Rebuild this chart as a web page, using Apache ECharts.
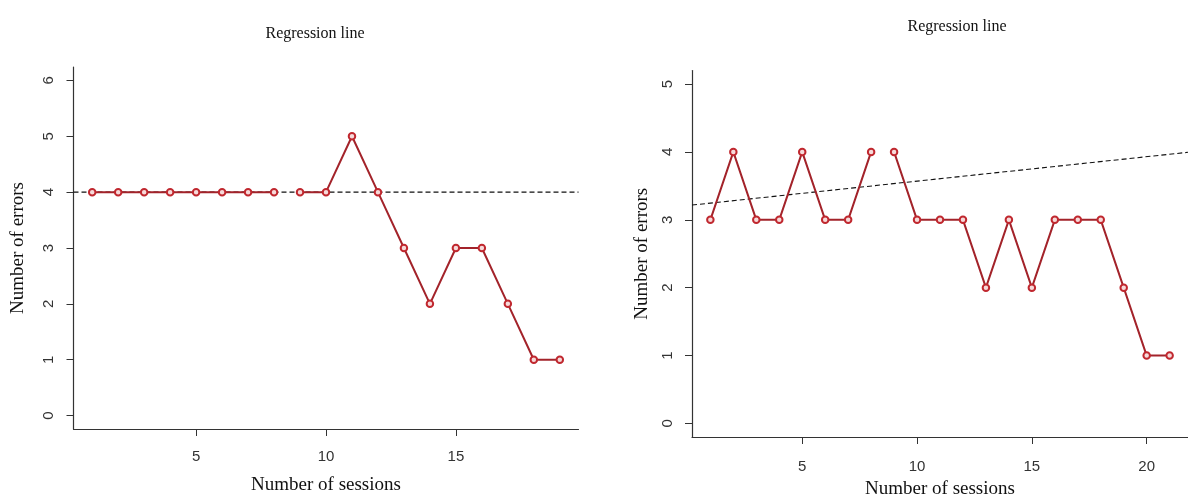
<!DOCTYPE html>
<html>
<head>
<meta charset="utf-8">
<script src="https://cdn.jsdelivr.net/npm/echarts@6/dist/echarts.min.js"></script>
<style>
html,body{margin:0;padding:0;background:#fff;}
#chart{width:1188px;height:504px;}
</style>
</head>
<body>
<div id="chart"></div>
<script>
// ---- data ----
const leftSessionsA = [1,2,3,4,5,6,7,8];
const leftErrorsA   = [4,4,4,4,4,4,4,4];
const leftSessionsB = [9,10,11,12,13,14,15,16,17,18,19];
const leftErrorsB   = [4,4,5,4,3,2,3,3,2,1,1];
const leftTrend     = [4, 0];          // intercept, slope
const leftXTicks    = [5,10,15];
const leftYTicks    = [0,1,2,3,4,5,6];

const rightSessionsA = [1,2,3,4,5,6,7,8];
const rightErrorsA   = [3,4,3,3,4,3,3,4];
const rightSessionsB = [9,10,11,12,13,14,15,16,17,18,19,20,21];
const rightErrorsB   = [4,3,3,3,2,3,2,3,3,3,2,1,1];
const rightTrend     = [3.21, 0.036];  // intercept, slope
const rightXTicks    = [5,10,15,20];
const rightYTicks    = [0,1,2,3,4,5];

const titles = ['Regression line','Regression line'];
const xName = 'Number of sessions';
const yName = 'Number of errors';

// ---- helpers ----
const pairs = (xs, ys) => xs.map((x,i)=>[x, ys[i]]);
const trendLine = (t, lo, hi) => [[lo, t[0]+t[1]*lo],[hi, t[0]+t[1]*hi]];

const LX = [0.28, 19.72], LY = [-0.24, 6.24];
const RX = [0.2, 21.8],  RY = [-0.2, 5.2];

const serif = '"Liberation Serif", "DejaVu Serif", serif';
const sans  = '"Liberation Sans", Arial, sans-serif';
const axisCol = '#333';
const lineCol = '#a3232a';
const ptCol = '#c0282f';

function xAxisCfg(idx, rng, ticks, gap, margin){
  return {
    type:'value', gridIndex: idx, min: rng[0], max: rng[1],
    axisLine:{show:true, onZero:false, lineStyle:{color:axisCol, width:1.2}},
    axisTick:{show:true, length:7, customValues: ticks, lineStyle:{color:axisCol}},
    axisLabel:{show:true, customValues: ticks, margin: margin, fontFamily: sans, fontSize: 15, color:'#333'},
    splitLine:{show:false},
    name: xName, nameLocation:'middle', nameGap: gap,
    nameTextStyle:{fontFamily: serif, fontSize: 19, color:'#111'}
  };
}
function yAxisCfg(idx, rng, ticks, gap){
  return {
    type:'value', gridIndex: idx, min: rng[0], max: rng[1],
    axisLine:{show:true, onZero:false, lineStyle:{color:axisCol, width:1.2}},
    axisTick:{show:true, length:7, customValues: ticks, lineStyle:{color:axisCol}},
    axisLabel:{show:true, customValues: ticks, rotate: 90, margin: 17, fontFamily: sans, fontSize: 15, color:'#333'},
    splitLine:{show:false},
    name: yName, nameLocation:'middle', nameGap: gap, nameRotate: 90,
    nameTextStyle:{fontFamily: serif, fontSize: 19, color:'#111'}
  };
}
function dataSeries(idx, data){
  return {
    type:'line', xAxisIndex: idx, yAxisIndex: idx, data: data,
    symbol:'circle', symbolSize: 6.5, showSymbol:true,
    lineStyle:{color: lineCol, width: 2},
    itemStyle:{color:'#f6dada', borderColor: ptCol, borderWidth: 2},
    z: 3, animation:false, silent:true
  };
}
function trendSeries(idx, data){
  return {
    type:'line', xAxisIndex: idx, yAxisIndex: idx, data: data,
    symbol:'none', lineStyle:{color:'#111', width:1.1, type:[5,3]},
    z: 2, animation:false, silent:true
  };
}

const chart = echarts.init(document.getElementById('chart'), null, {renderer:'canvas'});
chart.setOption({
  backgroundColor:'#fff',
  animation:false,
  title:[
    {text: titles[0], left: 310, top: 21, textAlign:'center', textStyle:{fontFamily: serif, fontSize: 16, fontWeight:'normal', color:'#111'}},
    {text: titles[1], left: 952, top: 14, textAlign:'center', textStyle:{fontFamily: serif, fontSize: 16, fontWeight:'normal', color:'#111'}}
  ],
  grid:[
    {left: 73.5, top: 67, width: 505, height: 362, containLabel:false},
    {left: 692, top: 70.5, width: 505, height: 371, containLabel:false}
  ],
  xAxis:[ xAxisCfg(0, LX, leftXTicks, 47, 20), xAxisCfg(1, RX, rightXTicks, 43, 22) ],
  yAxis:[ yAxisCfg(0, LY, leftYTicks, 46), yAxisCfg(1, RY, rightYTicks, 40) ],
  series:[
    trendSeries(0, trendLine(leftTrend, LX[0], LX[1])),
    dataSeries(0, pairs(leftSessionsA, leftErrorsA)),
    dataSeries(0, pairs(leftSessionsB, leftErrorsB)),
    trendSeries(1, trendLine(rightTrend, RX[0], RX[1])),
    dataSeries(1, pairs(rightSessionsA, rightErrorsA)),
    dataSeries(1, pairs(rightSessionsB, rightErrorsB))
  ]
});
</script>
</body>
</html>
